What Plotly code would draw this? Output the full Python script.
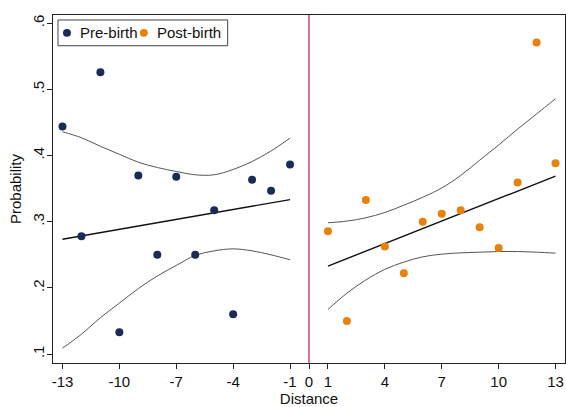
import plotly.graph_objects as go

# ---- data ----
pre_x = [-13, -12, -11, -10, -9, -8, -7, -6, -5, -4, -3, -2, -1]
pre_y = [0.444, 0.278, 0.526, 0.133, 0.370, 0.250, 0.368, 0.250, 0.3175, 0.160, 0.3635, 0.347, 0.3865]

post_x = [1, 2, 3, 4, 5, 6, 7, 8, 9, 10, 11, 12, 13]
post_y = [0.2855, 0.150, 0.333, 0.2625, 0.222, 0.300, 0.312, 0.3175, 0.2915, 0.2605, 0.3595, 0.571, 0.3885]

# fitted lines (endpoints)
pre_fit_x = [-13, -1]
pre_fit_y = [0.2735, 0.3335]
post_fit_x = [1, 13]
post_fit_y = [0.233, 0.369]

# confidence band curves (read at each integer distance)
pre_ci_upper = [0.436, 0.427, 0.414, 0.402, 0.390, 0.382, 0.376, 0.371, 0.371, 0.379, 0.391, 0.407, 0.4265]
pre_ci_lower = [0.109, 0.130, 0.155, 0.177, 0.199, 0.218, 0.234, 0.249, 0.256, 0.259, 0.256, 0.250, 0.2425]
post_ci_upper = [0.2985, 0.301, 0.306, 0.314, 0.325, 0.337, 0.351, 0.370, 0.393, 0.416, 0.440, 0.463, 0.486]
post_ci_lower = [0.1675, 0.192, 0.212, 0.228, 0.239, 0.247, 0.251, 0.253, 0.254, 0.255, 0.255, 0.254, 0.2525]

x_ticks = [-13, -10, -7, -4, -1, 0, 1, 4, 7, 10, 13]
y_ticks = [0.1, 0.2, 0.3, 0.4, 0.5, 0.6]
y_ticktext = [".1", ".2", ".3", ".4", ".5", ".6"]

series_names = ["Pre-birth", "Post-birth"]

NAVY = "#1c2a56"
ORANGE = "#e8820c"
VLINE = "#d6456f"
CI_COLOR = "#555555"

W, H = 566, 407
ML, MR, MT, MB = 53, 0, 15, 41
PW, PH = W - ML - MR, H - MT - MB

fig = go.Figure()

for xs, ys in [(pre_x, pre_ci_upper), (pre_x, pre_ci_lower),
               (post_x, post_ci_upper), (post_x, post_ci_lower)]:
    fig.add_trace(go.Scatter(x=xs, y=ys, mode="lines", line=dict(color=CI_COLOR, width=1, shape="spline"),
                             showlegend=False, hoverinfo="skip"))

fig.add_trace(go.Scatter(x=pre_fit_x, y=pre_fit_y, mode="lines", line=dict(color="#111111", width=1.4),
                         showlegend=False))
fig.add_trace(go.Scatter(x=post_fit_x, y=post_fit_y, mode="lines", line=dict(color="#111111", width=1.4),
                         showlegend=False))

fig.add_trace(go.Scatter(x=pre_x, y=pre_y, mode="markers", name=series_names[0],
                         marker=dict(color=NAVY, size=8), cliponaxis=False, showlegend=False))
fig.add_trace(go.Scatter(x=post_x, y=post_y, mode="markers", name=series_names[1],
                         marker=dict(color=ORANGE, size=8), cliponaxis=False, showlegend=False))

fig.add_shape(type="line", x0=0, x1=0, y0=0, y1=1, xref="x", yref="paper",
              line=dict(color=VLINE, width=1.5), layer="above")

font_family = "Liberation Sans, Arial, sans-serif"


# ---- compact Stata-style legend box (layout decoration, placed in paper units) ----
def px_x(p):
    return (p - ML) / PW


def px_y(p):
    return (H - MB - p) / PH


fig.add_shape(type="rect", xref="paper", yref="paper",
              x0=px_x(58), x1=px_x(228), y0=px_y(46), y1=px_y(20),
              line=dict(color="#444444", width=1), fillcolor="white", layer="above")
for cx, tx, name, col in [(67, 78, series_names[0], NAVY), (144, 155, series_names[1], ORANGE)]:
    fig.add_shape(type="circle", xref="paper", yref="paper",
                  x0=px_x(cx - 4), x1=px_x(cx + 4), y0=px_y(33 + 4), y1=px_y(33 - 4),
                  line=dict(color=col, width=0), fillcolor=col, layer="above")
    fig.add_annotation(x=px_x(tx), y=px_y(33), xref="paper", yref="paper", text=name,
                       showarrow=False, xanchor="left", yanchor="middle",
                       font=dict(size=15, color="#111111"))

fig.update_layout(
    width=W, height=H,
    margin=dict(l=ML, r=MR, t=MT, b=MB),
    paper_bgcolor="white", plot_bgcolor="white",
    font=dict(family=font_family, size=15, color="#111111"),
    showlegend=False,
    xaxis=dict(
        range=[-13.5, 13.5], tickvals=x_ticks, ticktext=[str(v) for v in x_ticks],
        showgrid=False, zeroline=False, showline=True, linecolor="#222222", linewidth=1,
        mirror=True, ticks="outside", ticklen=5, tickcolor="#222222",
        ticklabelstandoff=0,
        title=dict(text="Distance", standoff=6, font=dict(size=15)),
        tickfont=dict(size=15),
    ),
    yaxis=dict(
        range=[0.0865, 0.6125], tickvals=y_ticks, ticktext=y_ticktext, tickangle=-90,
        showgrid=False, zeroline=False, showline=True, linecolor="#222222", linewidth=1,
        mirror=True, ticks="outside", ticklen=5, tickcolor="#222222",
        ticklabelstandoff=-3,
        title=dict(text="Probability", standoff=4, font=dict(size=15)),
        tickfont=dict(size=15),
    ),
)

# remove the default 8px page margin so the figure fills the window exactly
fig.write_html(
    "out.html",
    config={"displayModeBar": False},
    post_script="document.body.style.margin='0';document.body.style.overflow='hidden';",
)
